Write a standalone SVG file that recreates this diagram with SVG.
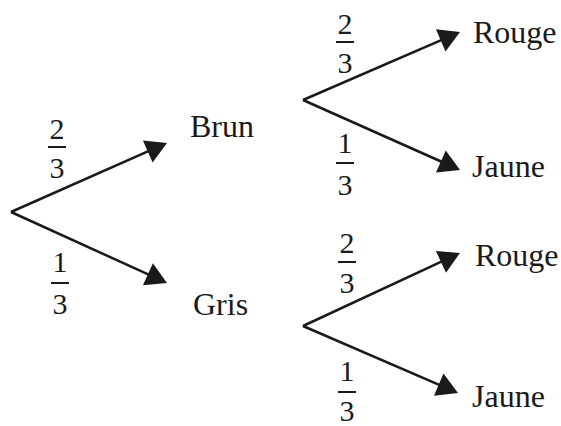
<svg xmlns="http://www.w3.org/2000/svg" width="561" height="426" viewBox="0 0 561 426">
<defs>
<style>
text{font-family:'Liberation Serif','Times New Roman',serif;fill:#1a1a1a}
.lbl{font-size:32px}
.num{font-size:30px;text-anchor:middle}
.bar{stroke:#1a1a1a;stroke-width:2}
.edge{stroke:#1a1a1a;stroke-width:2.5;fill:none}
</style>
<marker id="ah" markerUnits="userSpaceOnUse" markerWidth="22" markerHeight="24" refX="10" refY="12" orient="auto" overflow="visible">
<path d="M0,0 L21,12 L0,24 z" fill="#1a1a1a"/>
</marker>
</defs>
<rect width="561" height="426" fill="#ffffff"/>
<g id="connectors">
<line class="edge" x1="11" y1="212" x2="156.9" y2="147.4" marker-end="url(#ah)"/>
<line class="edge" x1="11" y1="212" x2="157" y2="278.4" marker-end="url(#ah)"/>
<line class="edge" x1="303" y1="100" x2="449.9" y2="36.4" marker-end="url(#ah)"/>
<line class="edge" x1="303" y1="100" x2="450" y2="165.5" marker-end="url(#ah)"/>
<line class="edge" x1="303" y1="326" x2="450" y2="257.6" marker-end="url(#ah)"/>
<line class="edge" x1="303" y1="326" x2="447.9" y2="388.6" marker-end="url(#ah)"/>
</g>
<g id="p1"><text class="num" x="57" y="139">2</text><line class="bar" x1="48" y1="147" x2="66" y2="147"/><text class="num" x="57" y="178">3</text></g>
<g id="p2"><text class="num" x="60" y="272">1</text><line class="bar" x1="51" y1="283" x2="69" y2="283"/><text class="num" x="60" y="314">3</text></g>
<g id="p3"><text class="num" x="345" y="34">2</text><line class="bar" x1="336" y1="42" x2="354" y2="42"/><text class="num" x="345" y="73">3</text></g>
<g id="p4"><text class="num" x="345" y="153">1</text><line class="bar" x1="336" y1="163" x2="354" y2="163"/><text class="num" x="345" y="195">3</text></g>
<g id="p5"><text class="num" x="347" y="253">2</text><line class="bar" x1="338" y1="262" x2="356" y2="262"/><text class="num" x="347" y="293">3</text></g>
<g id="p6"><text class="num" x="347" y="381">1</text><line class="bar" x1="338" y1="392" x2="356" y2="392"/><text class="num" x="347" y="421">3</text></g>
<g id="brun"><text class="lbl" x="190" y="137">Brun</text></g>
<g id="gris"><text class="lbl" x="193" y="315">Gris</text></g>
<g id="rouge1"><text class="lbl" x="473" y="43">Rouge</text></g>
<g id="jaune1"><text class="lbl" x="472" y="177">Jaune</text></g>
<g id="rouge2"><text class="lbl" x="475" y="266">Rouge</text></g>
<g id="jaune2"><text class="lbl" x="472" y="407">Jaune</text></g>
</svg>
